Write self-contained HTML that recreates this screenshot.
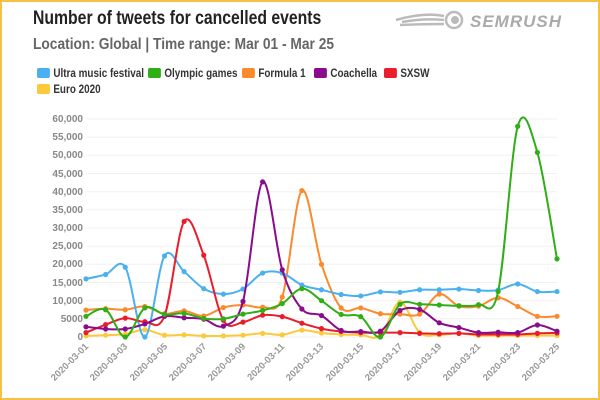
<!DOCTYPE html>
<html><head><meta charset="utf-8"><style>
html,body{margin:0;padding:0;background:#fff}
#w{position:relative;width:596px;height:396px;border:2px solid #f7c244;overflow:hidden;font-family:"Liberation Sans",sans-serif}
.t{position:absolute;left:31px;top:6px;font-size:19px;font-weight:bold;color:#222;transform:scaleX(0.83);transform-origin:0 0;white-space:nowrap}
.s{position:absolute;left:31px;top:34px;font-size:16px;font-weight:bold;color:#666;transform:scaleX(0.86);transform-origin:0 0;white-space:nowrap}
.lg{position:absolute;font-size:11.5px;font-weight:bold;color:#333;white-space:nowrap;transform:scaleX(0.86);transform-origin:0 0}
.lg i{display:inline-block;width:15px;height:10px;border-radius:2px;vertical-align:-1px;margin-right:4px}
.logo{position:absolute;left:468px;top:10px;font-size:17px;font-style:italic;font-weight:bold;color:#aaa;letter-spacing:1px}
</style></head><body><div id="w">
<div class="t">Number of tweets for cancelled events</div>
<div class="s">Location: Global | Time range: Mar 01 - Mar 25</div>
<svg style="position:absolute;left:392px;top:8px" width="74" height="20"><path d="M2 10 Q30 2 50 6 M8 12 Q30 8 50 10 M6 15 Q30 14 50 14" stroke="#bbb" stroke-width="2.5" fill="none"/><circle cx="60" cy="10" r="8" fill="none" stroke="#bbb" stroke-width="2.5"/><circle cx="61" cy="10" r="4" fill="#bbb"/></svg>
<div class="logo">SEMRUSH</div>
<div class="lg" style="left:35px;top:66px"><i style="background:#4bb0f0"></i>Ultra music festival</div>
<div class="lg" style="left:146px;top:66px"><i style="background:#2fae16"></i>Olympic games</div>
<div class="lg" style="left:240px;top:66px"><i style="background:#fb8a2d"></i>Formula 1</div>
<div class="lg" style="left:312px;top:66px"><i style="background:#8a0c8c"></i>Coachella</div>
<div class="lg" style="left:382px;top:66px"><i style="background:#ea1d2c"></i>SXSW</div>
<div class="lg" style="left:35px;top:82px"><i style="background:#fbc93a"></i>Euro 2020</div>
<svg id="c" style="position:absolute;left:-2px;top:-2px" width="600" height="400">
<g stroke="#f0f0f0" stroke-width="1">
<line x1="86" x2="557" y1="119" y2="119"/><line x1="86" x2="557" y1="137.2" y2="137.2"/><line x1="86" x2="557" y1="155.3" y2="155.3"/><line x1="86" x2="557" y1="173.5" y2="173.5"/><line x1="86" x2="557" y1="191.7" y2="191.7"/><line x1="86" x2="557" y1="209.8" y2="209.8"/><line x1="86" x2="557" y1="228" y2="228"/><line x1="86" x2="557" y1="246.2" y2="246.2"/><line x1="86" x2="557" y1="264.3" y2="264.3"/><line x1="86" x2="557" y1="282.5" y2="282.5"/><line x1="86" x2="557" y1="300.7" y2="300.7"/><line x1="86" x2="557" y1="318.8" y2="318.8"/><line x1="86" x2="557" y1="337" y2="337"/>
</g>
<g font-size="10" fill="#888" font-weight="bold" text-anchor="end" font-family="Liberation Sans,sans-serif">
<text x="83" y="122">60,000</text><text x="83" y="140">55,000</text><text x="83" y="158">50,000</text><text x="83" y="177">45,000</text><text x="83" y="195">40,000</text><text x="83" y="213">35,000</text><text x="83" y="231">30,000</text><text x="83" y="249">25,000</text><text x="83" y="267">20,000</text><text x="83" y="286">15,000</text><text x="83" y="304">10,000</text><text x="83" y="322">5000</text><text x="83" y="340">0</text>
</g>
<g font-size="9.5" fill="#999" font-weight="bold" text-anchor="end" font-family="Liberation Sans,sans-serif">
<text transform="translate(89,347) rotate(-45)">2020-03-01</text>
<text transform="translate(128,347) rotate(-45)">2020-03-03</text>
<text transform="translate(168,347) rotate(-45)">2020-03-05</text>
<text transform="translate(207,347) rotate(-45)">2020-03-07</text>
<text transform="translate(246,347) rotate(-45)">2020-03-09</text>
<text transform="translate(285,347) rotate(-45)">2020-03-11</text>
<text transform="translate(324,347) rotate(-45)">2020-03-13</text>
<text transform="translate(364,347) rotate(-45)">2020-03-15</text>
<text transform="translate(403,347) rotate(-45)">2020-03-17</text>
<text transform="translate(442,347) rotate(-45)">2020-03-19</text>
<text transform="translate(481,347) rotate(-45)">2020-03-21</text>
<text transform="translate(521,347) rotate(-45)">2020-03-23</text>
<text transform="translate(560,347) rotate(-45)">2020-03-25</text>
</g>
<g id="series"></g>
</svg>
</div>
<script>
var D=[
["#fbc93a",[300,500,800,2000,500,600,300,300,500,1000,600,1900,1100,700,600,400,9600,1200,600,1000,400,400,400,400,400]],
["#fb8a2d",[7400,7800,7500,8400,6400,7200,5800,8100,8800,8200,11000,40300,20000,8000,8000,6400,6300,6300,11800,8500,8500,10800,8400,5700,5700]],
["#4bb0f0",[16000,17200,19200,0,22300,18000,13300,11800,13200,17600,17600,14300,13000,11700,11300,12400,12300,13000,13000,13200,12800,12900,14600,12500,12500]],
["#ea1d2c",[1200,3400,5200,4200,5800,31800,22500,4600,4100,6000,5600,3800,2300,1500,1200,1200,1200,1000,900,1000,700,700,700,1000,1100]],
["#8a0c8c",[2800,2200,2200,3600,5700,5300,4900,3000,9800,42700,18500,7700,5900,1800,1500,1600,7300,7600,3900,2600,1200,1300,1200,3300,1600]],
["#2fae16",[5700,7500,0,8000,6200,6500,5100,5000,6300,7300,9200,13300,10000,6200,5600,0,9000,9000,8800,8600,8900,12500,58000,50800,21500]]
];
var g=document.getElementById("series"),h="";
D.forEach(function(s){
 var p=s[1].map(function(v,i){return [86+i*19.625,337-v*218/60000];});
 var d="M"+p[0][0]+" "+p[0][1];
 for(var i=0;i<p.length-1;i++){
  var p0=p[i-1]||p[i],p1=p[i],p2=p[i+1],p3=p[i+2]||p2;
  d+=" C"+(p1[0]+(p2[0]-p0[0])/6)+" "+(p1[1]+(p2[1]-p0[1])/6)+" "+(p2[0]-(p3[0]-p1[0])/6)+" "+(p2[1]-(p3[1]-p1[1])/6)+" "+p2[0]+" "+p2[1];
 }
 h+='<path d="'+d+'" fill="none" stroke="'+s[0]+'" stroke-width="2"/>';
 p.forEach(function(q){h+='<circle cx="'+q[0]+'" cy="'+q[1]+'" r="2.6" fill="'+s[0]+'"/>';});
});
g.innerHTML=h;
</script>
</body></html>
